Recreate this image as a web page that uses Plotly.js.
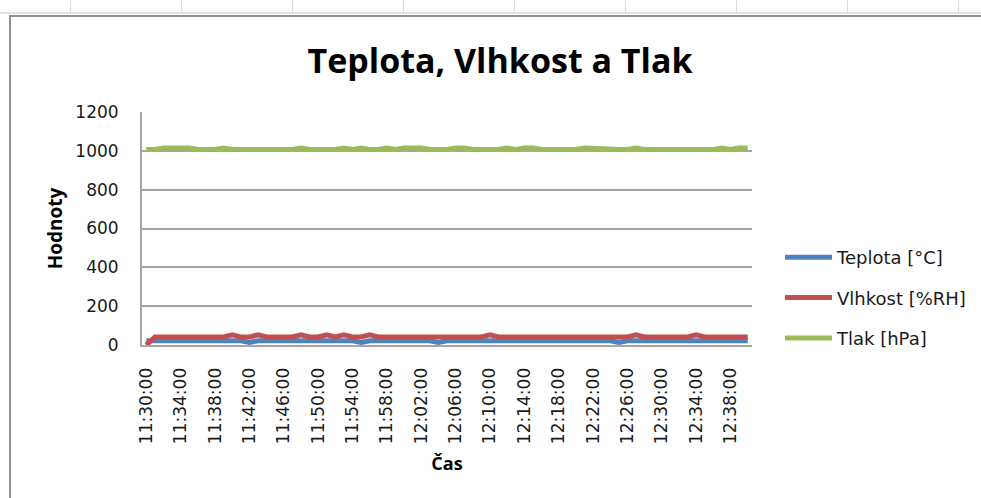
<!DOCTYPE html>
<html>
<head>
<meta charset="utf-8">
<script src="https://cdn.plot.ly/plotly-3.0.1.min.js"></script>
<style>
  html, body { margin: 0; padding: 0; background: #ffffff; }
  #wrap { position: relative; width: 981px; height: 498px; overflow: hidden; background: #fff; }
  .col { position: absolute; top: 0; width: 1px; height: 13px; background: #dcdcdc; }
  #row { position: absolute; left: 0; top: 12px; width: 981px; height: 2px; background: #e3e3e3; }
  #btop { position: absolute; left: 9px; top: 15px; width: 972px; height: 2px; background: #8f8f8f; }
  #bleft { position: absolute; left: 9px; top: 15px; width: 2px; height: 483px; background: #8f8f8f; }
  #chart { position: absolute; left: 0; top: 0; width: 981px; height: 498px; }
</style>
</head>
<body>
<div id="wrap">
  <div id="row"></div>
  <div class="col" style="left:70px"></div>
  <div class="col" style="left:181px"></div>
  <div class="col" style="left:292px"></div>
  <div class="col" style="left:403px"></div>
  <div class="col" style="left:514px"></div>
  <div class="col" style="left:625px"></div>
  <div class="col" style="left:736px"></div>
  <div class="col" style="left:847px"></div>
  <div class="col" style="left:958px"></div>
  <div id="btop"></div>
  <div id="bleft"></div>
  <div id="chart"></div>
</div>
<script>
// ---- data ----
var casy = [
  "11:30:00","11:31:00","11:32:00","11:33:00","11:34:00","11:35:00","11:36:00","11:37:00","11:38:00","11:39:00",
  "11:40:00","11:41:00","11:42:00","11:43:00","11:44:00","11:45:00","11:46:00","11:47:00","11:48:00","11:49:00",
  "11:50:00","11:51:00","11:52:00","11:53:00","11:54:00","11:55:00","11:56:00","11:57:00","11:58:00","11:59:00",
  "12:00:00","12:01:00","12:02:00","12:03:00","12:04:00","12:05:00","12:06:00","12:07:00","12:08:00","12:09:00",
  "12:10:00","12:11:00","12:12:00","12:13:00","12:14:00","12:15:00","12:16:00","12:17:00","12:18:00","12:19:00",
  "12:20:00","12:21:00","12:22:00","12:23:00","12:24:00","12:25:00","12:26:00","12:27:00","12:28:00","12:29:00",
  "12:30:00","12:31:00","12:32:00","12:33:00","12:34:00","12:35:00","12:36:00","12:37:00","12:38:00","12:39:00",
  "12:40:00"
];

var teplota = [
  22,22,22,22,22,22,22,22,22,22,
  22,22,13,22,22,22,22,22,22,22,
  22,22,22,22,22,13,22,22,22,22,
  22,22,22,22,13,22,22,22,22,22,
  22,22,22,22,22,22,22,22,22,22,
  22,22,22,22,22,13,22,22,22,22,
  22,22,22,22,22,22,22,22,22,22,
  22
];

var vlhkost = [
  0,41,41,41,41,41,41,41,41,41,
  52,41,41,52,41,41,41,41,52,41,
  41,52,41,52,41,41,52,41,41,41,
  41,41,41,41,41,41,41,41,41,41,
  52,41,41,41,41,41,41,41,41,41,
  41,41,41,41,41,41,41,52,41,41,
  41,41,41,41,52,41,41,41,41,41,
  41
];

var tlak = [
  1007,1007,1014,1014,1014,1014,1007,1007,1007,1014,
  1007,1007,1007,1007,1007,1007,1007,1007,1014,1007,
  1007,1007,1007,1014,1007,1014,1007,1007,1014,1007,
  1014,1014,1014,1007,1007,1007,1014,1014,1007,1007,
  1007,1007,1014,1007,1014,1014,1007,1007,1007,1007,
  1007,1014,1011,1007,1007,1007,1007,1014,1007,1007,
  1007,1007,1007,1007,1007,1007,1007,1014,1007,1014,
  1014
];

var popisky = [
  "11:30:00","11:34:00","11:38:00","11:42:00","11:46:00","11:50:00","11:54:00","11:58:00","12:02:00",
  "12:06:00","12:10:00","12:14:00","12:18:00","12:22:00","12:26:00","12:30:00","12:34:00","12:38:00"
];

var nazvy = ["Teplota [°C]", "Vlhkost [%RH]", "Tlak [hPa]"];
var barvy = ["#4F81BD", "#C0504D", "#9BBB59"];
var rady = [teplota, vlhkost, tlak];

var traces = rady.map(function (vals, k) {
  return {
    type: "scatter",
    mode: "lines",
    x: casy,
    y: vals,
    name: nazvy[k],
    legendgroup: "g" + k,
    line: { color: barvy[k], width: 5 },
    hoverinfo: "x+y+name"
  };
});

var smallFont = { family: "DejaVu Sans, sans-serif", size: 17, color: "#1a1a1a" };
var legendFont = { family: "DejaVu Sans, sans-serif", size: 18, color: "#1a1a1a" };

var layout = {
  width: 981,
  height: 498,
  margin: { l: 142, r: 229, t: 112, b: 153, pad: 0 },
  paper_bgcolor: "rgba(0,0,0,0)",
  plot_bgcolor: "rgba(0,0,0,0)",
  showlegend: true,
  title: {
    text: "<b>Teplota, Vlhkost a Tlak</b>",
    font: { family: "Open Sans, sans-serif", size: 34, color: "#000" },
    xref: "container", x: 0.5097, xanchor: "center",
    yref: "container", y: 1 - 49 / 498, yanchor: "top"
  },
  xaxis: {
    type: "category",
    range: [-0.5, 70.5],
    tickmode: "array",
    tickvals: popisky,
    ticktext: popisky,
    tickangle: -90,
    tickfont: smallFont,
    ticks: "",
    ticklabelstandoff: 14,
    showgrid: false,
    showline: true,
    linecolor: "#a6a6a6",
    linewidth: 2,
    zeroline: false,
    automargin: false,
    fixedrange: true,
    title: {
      text: "<b>Čas</b>",
      font: { family: "Open Sans, sans-serif", size: 18, color: "#000" },
      standoff: 14
    }
  },
  yaxis: {
    range: [0, 1200],
    dtick: 200,
    tick0: 0,
    tickfont: smallFont,
    ticks: "",
    ticklabelstandoff: 18,
    showgrid: true,
    gridcolor: "#a6a6a6",
    gridwidth: 2,
    showline: true,
    linecolor: "#a6a6a6",
    linewidth: 2,
    zeroline: false,
    automargin: false,
    fixedrange: true,
    layer: "below traces",
    title: {
      text: "<b>Hodnoty</b>",
      font: { family: "Open Sans, sans-serif", size: 19, color: "#000" },
      standoff: 8
    }
  },
  legend: {
    xref: "container", yref: "container",
    x: 780 / 981, xanchor: "left",
    y: 1 - 239 / 498, yanchor: "top",
    font: legendFont,
    bgcolor: "rgba(0,0,0,0)",
    borderwidth: 0,
    itemwidth: 47,
    tracegroupgap: 14,
    traceorder: "grouped"
  }
};

Plotly.newPlot("chart", traces, layout, { displayModeBar: false });
</script>
</body>
</html>
